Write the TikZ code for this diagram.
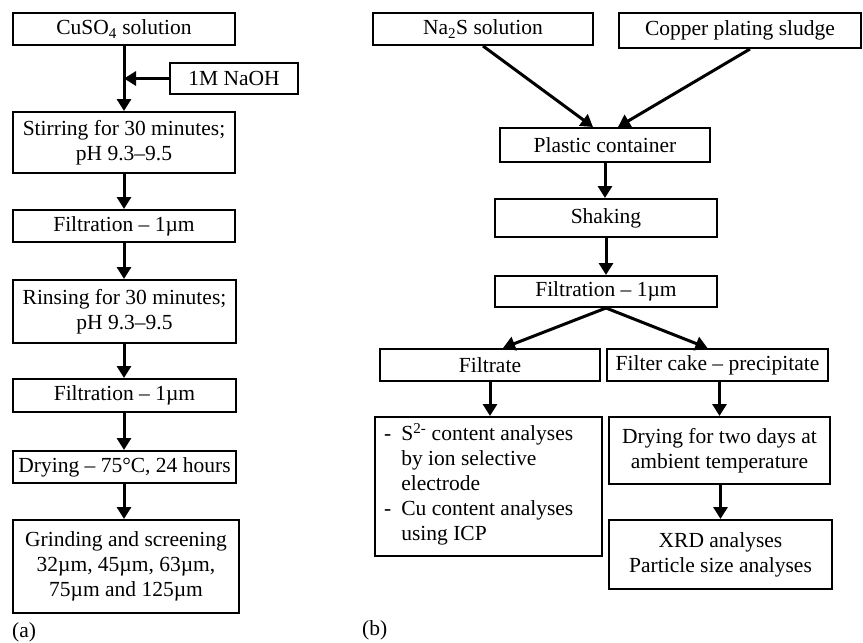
\documentclass[tikz,border=0pt]{standalone}
\usepackage{fontspec}
\setmainfont{Liberation Serif}
\usetikzlibrary{arrows.meta,calc}
\begin{document}
\begin{tikzpicture}[x=1pt,y=-1pt,
  box/.style={draw,line width=2pt,rectangle,inner sep=0pt,align=center,
     font=\fontsize{21.5}{25}\selectfont},
  flow/.style={line width=3pt,-{Triangle[length=12pt,width=14pt]}},
  lbl/.style={inner sep=0pt,font=\fontsize{21.5}{25}\selectfont}]
\useasboundingbox (0,0) rectangle (863,643);
% (a)
\node[box,minimum width=222,minimum height=32] (cuso) at (124,29) {CuSO\textsubscript{4} solution};
\node[box,minimum width=128,minimum height=31] (naoh) at (234,78.5) {1M NaOH};
\node[box,minimum width=222,minimum height=61] (stir) at (124,142.5) {Stirring for 30 minutes;\\pH 9.3–9.5};
\node[box,minimum width=222,minimum height=32] (filta) at (124,226) {Filtration – 1µm};
\node[box,minimum width=223,minimum height=63] (rinse) at (124.5,311.5) {Rinsing for 30 minutes;\\pH 9.3–9.5};
\node[box,minimum width=223,minimum height=33] (filtb) at (124.5,395.5) {Filtration – 1µm};
\node[box,minimum width=223,minimum height=32] (drya) at (124.5,467) {Drying – 75°C, 24 hours};
\node[box,minimum width=226,minimum height=93] (grind) at (126,566.5) {Grinding and screening\\32µm, 45µm, 63µm,\\75µm and 125µm};
\node[lbl,anchor=west] (la) at (12,632) {(a)};
\coordinate (j) at (cuso.south |- naoh.west);
\draw[flow] (cuso.south) -- (cuso.south |- stir.north);
\draw[flow] (naoh.west) -- (j);
\draw[flow] (stir.south -| cuso.south) -- (filta.north -| cuso.south);
\draw[flow] (filta.south -| cuso.south) -- (rinse.north -| cuso.south);
\draw[flow] (rinse.south -| cuso.south) -- (filtb.north -| cuso.south);
\draw[flow] (filtb.south -| cuso.south) -- (drya.north -| cuso.south);
\draw[flow] (drya.south -| cuso.south) -- (grind.north -| cuso.south);
% (b)
\node[box,minimum width=220,minimum height=32] (nas) at (483,29) {Na\textsubscript{2}S solution};
\node[box,minimum width=242,minimum height=35] (cop) at (740,30.5) {Copper plating sludge};
\node[box,minimum width=210,minimum height=34] (plast) at (605,145) {Plastic container};
\node[box,minimum width=222,minimum height=38] (shake) at (606,218) {Shaking};
\node[box,minimum width=222,minimum height=31] (filtc) at (606,291.5) {Filtration – 1µm};
\node[box,minimum width=220,minimum height=32] (filtr) at (490,365) {Filtrate};
\node[box,minimum width=221,minimum height=32] (cake) at (717.5,365) {Filter cake – precipitate};
\node[box,minimum width=227,minimum height=139] (anal) at (488.5,486.5) {};
\node[lbl,anchor=north west,align=left] (analtxt) at (384,423) {\begin{tabular}{@{}l@{\hspace{10pt}}l@{}}
-& S\textsuperscript{2-} content analyses\\
 & by ion selective\\
 & electrode\\
-& Cu content analyses\\
 & using ICP
\end{tabular}};
\node[box,minimum width=221,minimum height=67] (dryb) at (719.5,450.5) {Drying for two days at\\ambient temperature};
\node[box,minimum width=223,minimum height=69] (xrd) at (720.5,554.5) {XRD analyses\\Particle size analyses};
\node[lbl,anchor=west] (lb) at (362,630) {(b)};
\draw[flow] (nas.south) -- ($(plast.north)+(-12,0)$);
\draw[flow] ($(cop.south)+(10,0)$) -- ($(plast.north)+(13,0)$);
\draw[flow] (plast.south) -- (plast.south |- shake.north);
\draw[flow] (shake.south) -- (shake.south |- filtc.north);
\draw[flow] (filtc.south) -- ($(filtr.north)+(13,0)$);
\draw[flow] (filtc.south) -- ($(cake.north)+(-10,0)$);
\draw[flow] (filtr.south) -- (filtr.south |- anal.north);
\draw[flow] (dryb.north |- cake.south) -- (dryb.north);
\draw[flow] (dryb.south -| xrd.north) -- (xrd.north);
\end{tikzpicture}
\end{document}
